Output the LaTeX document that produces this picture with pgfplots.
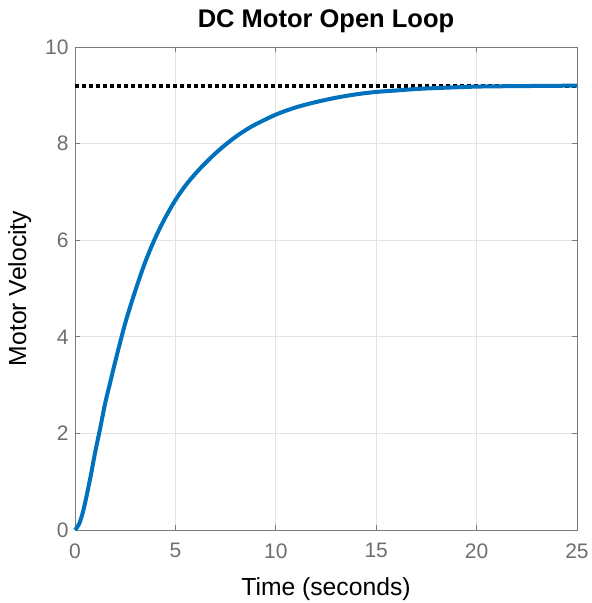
\documentclass[border=0pt]{standalone}
\usepackage{fontspec}
\setmainfont{Liberation Sans}
\usepackage{pgfplots}
\pgfplotsset{compat=1.18}
\definecolor{mblue}{HTML}{0072BD}
\definecolor{tickgray}{HTML}{6E6E6E}
\definecolor{boxgray}{HTML}{7A7A7A}
\definecolor{gridgray}{HTML}{E3E3E3}
\begin{document}
\begin{tikzpicture}
\begin{axis}[
  name=ax,
  scale only axis,
  width=502pt, height=483pt,
  xmin=0, xmax=25, ymin=0, ymax=10,
  xtick={0,5,10,15,20,25},
  ytick={0,2,4,6,8,10},
  grid=major,
  major grid style={gridgray, line width=0.8pt},
  axis line style={boxgray, line width=0.9pt},
  tick style={boxgray, line width=0.9pt},
  major tick length=5pt,
  tick align=inside,
  xtick pos=both, ytick pos=both,
  /pgf/number format/assume math mode=true,
  ticklabel style={font=\fontsize{21}{24}\selectfont, text=tickgray},
  xticklabel style={yshift=-10pt},
  yticklabel style={xshift=-3pt},
  xlabel={Time (seconds)},
  ylabel={Motor Velocity},
  label style={font=\fontsize{24.7}{28}\selectfont, text=black},
  xlabel style={yshift=-12pt},
  ylabel style={yshift=7pt},
  title={DC Motor Open Loop},
  title style={font=\fontsize{25.5}{29}\selectfont\bfseries, yshift=5pt},
  clip=false,
]
\addplot[black, line width=4pt, dash pattern=on 4pt off 3pt] coordinates {(0,9.2) (25,9.2)};
\addplot[mblue, line width=4pt, line join=round, smooth, tension=0.5] coordinates {
(0,0) (0.2,0.12) (0.4,0.38) (0.6,0.75) (0.8,1.16) (1.0,1.60) (1.25,2.10)
(1.5,2.62) (1.75,3.05) (2.0,3.48) (2.5,4.28) (3.0,4.95) (3.5,5.55)
(4.0,6.05) (4.5,6.47) (5.0,6.83) (5.5,7.13) (6.0,7.38) (6.5,7.60)
(7.0,7.80) (7.5,7.98) (8.0,8.14) (8.5,8.28) (9.0,8.40) (10,8.60)
(11,8.75) (12,8.86) (13,8.95) (14,9.02) (15,9.07) (16,9.10) (17,9.13)
(18,9.15) (20,9.18) (22,9.19) (25,9.20)};
\end{axis}
\pgfresetboundingbox
\path ([xshift=-75pt,yshift=-73pt]ax.south west) rectangle ([xshift=15pt,yshift=47pt]ax.north east);
\end{tikzpicture}
\end{document}
